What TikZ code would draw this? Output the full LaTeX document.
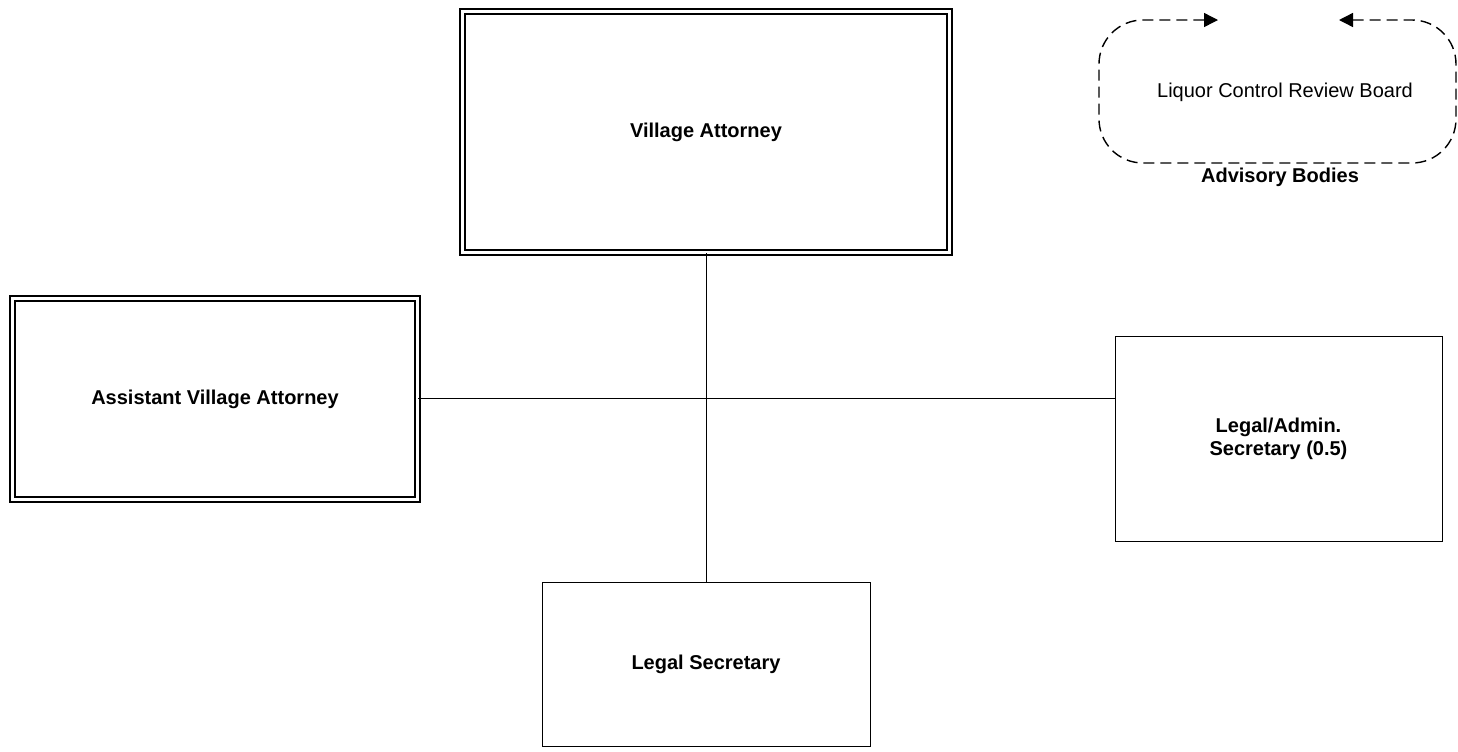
\documentclass[tikz,border=0pt]{standalone}
\usepackage{fontspec}
\setmainfont{Liberation Sans}
\usetikzlibrary{arrows.meta}

\tikzset{
    officebox/.style = {draw, inner sep = 0pt, align = center, font = \fontsize{10}{11.5}\selectfont\bfseries, line width = 0.5pt},
    headbox/.style = {officebox, double, line width = 0.75pt, double distance = 1.75pt},
    advframe/.style = {line width = 0.7pt, dash pattern = on 5.5pt off 3pt, rounded corners = 22pt, {Triangle[length = 7pt, width = 7pt]}-{Triangle[length = 7pt, width = 7pt]}}
}

\begin{document}
\begin{tikzpicture}[x = 0.5pt, y = -0.5pt]
                \useasboundingbox (0,0) rectangle (1458,751);
                \node[headbox, minimum width = 243.5pt, minimum height = 120.5pt] (attorney) at (706,132) {Village Attorney};
                \node[headbox, minimum width = 202.5pt, minimum height = 100.5pt] (assistant) at (215,399) {Assistant Village Attorney};
                \node[officebox, minimum width = 163.5pt, minimum height = 102.5pt] (admin) at (1278.5,438.5) {Legal/Admin.\\Secretary (0.5)};
                \node[officebox, minimum width = 164pt, minimum height = 82pt] (secretary) at (706,664) {Legal Secretary};
                \draw[line width = 0.5pt] (attorney.south) -- (secretary.north);
                \draw[line width = 0.5pt] (assistant.east |- 0,398) -- (admin.west |- 0,398);
                % advisory bodies
                \node[font = \fontsize{10}{12}\selectfont] (lcrb) at (1285,92) {Liquor Control Review Board};
                \node[font = \fontsize{10}{12}\selectfont\bfseries] (advisory) at (1280,177) {Advisory Bodies};
                \coordinate (ltip) at (1218,20);
                \coordinate (rtip) at (1339,20);
                \draw[advframe] (ltip) -- (1099,20) -- (1099,163) -- (1456,163) -- (1456,20) -- (rtip);
\end{tikzpicture}
\end{document}
